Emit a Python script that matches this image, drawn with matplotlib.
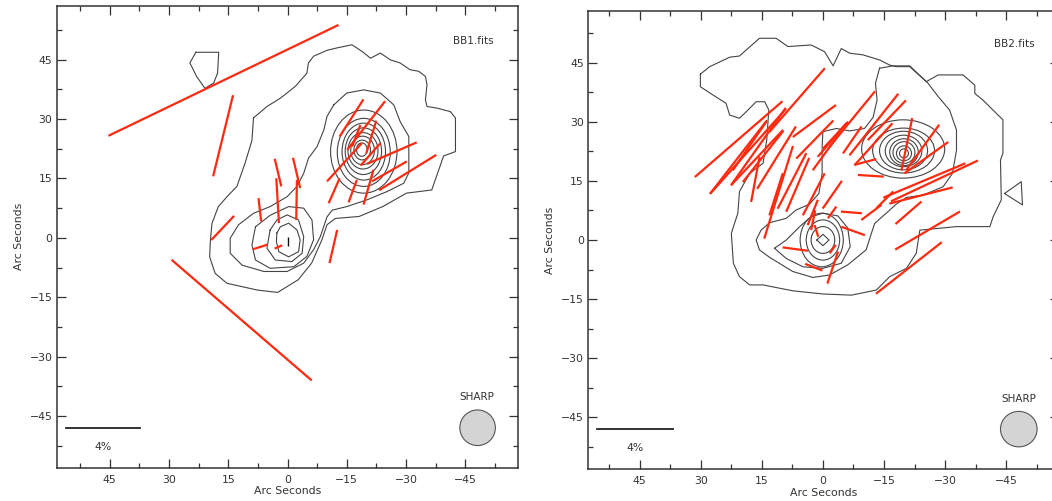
import numpy as np
import matplotlib
matplotlib.use("Agg")
import matplotlib.pyplot as plt
from matplotlib.patches import Ellipse, Circle
from matplotlib.ticker import MultipleLocator

RED = "#ff2a10"
GREY = "#444444"
PSCALE = 18.6 / 4.0          # arcsec per percent of polarization

# ---------------- BB1 ----------------
# vectors: RA offset, Dec offset (arcsec), polarization (%), position angle (deg E of N)
bb1_x = [16.2, 16.3, 11.6, 16.4, 6.9, 2.3, 7.0, 2.5, 2.4, -2.3, -2.3, -11.6,
         -16.2, -19.9, -21.2, -17.4, -21.0, -26.4, -25.8, -30.4, -14.4, -11.8, -16.5, -20.5]
bb1_y = [39.8, 25.8, -20.8, 2.5, -2.3, -2.3, 7.1, 9.4, 16.5, 16.4, 9.6, -2.2,
         30.3, 28.4, 25.5, 25.8, 21.1, 21.4, 16.8, 16.5, 19.1, 11.9, 11.8, 12.8]
bb1_p = [13.9, 4.54, 10.06, 1.81, 0.85, 0.45, 1.27, 2.44, 1.54, 1.70, 2.16, 1.85,
         2.40, 3.36, 1.85, 1.25, 1.63, 2.95, 2.18, 3.66, 2.81, 1.48, 1.30, 1.97]
bb1_pa = [115.7, 166.2, 49.3, 136.6, 107.3, 113.5, 6.5, 3.4, 13.5, 13.4, 179.0, 167.0,
          147.3, 142.0, 163.0, 159.0, 138.6, 113.4, 119.7, 121.7, 137.6, 156.3, 159.8, 164.1]

# contours (RA, Dec offsets in arcsec)
bb1_outer_x = [8.6, 5.2, 1.8, -2.0, -4.9, -5.3, -6.6, -10.0, -12.5, -16.3, -18.9, -21.0,
               -23.5, -26.0, -28.5, -31.0, -33.2, -34.9, -35.3, -34.9, -35.3, -37.8, -41.2,
               -42.5, -42.5, -39.5, -36.5, -30.1, -24.1, -18.1, -12.1, -10.0, -8.7, -6.1,
               -2.7, 2.5, 7.6, 15.3, 18.3, 19.7, 19.5, 19.1, 17.5, 15.3, 12.8, 10.7, 9.0]
bb1_outer_y = [30.3, 33.2, 35.3, 38.3, 41.6, 44.2, 45.9, 47.4, 48.0, 48.8, 47.1, 45.4,
               46.7, 45.0, 44.2, 42.5, 42.1, 40.8, 38.7, 34.9, 33.2, 32.8, 31.9,
               30.3, 21.8, 20.7, 12.1, 11.3, 7.9, 5.4, 4.9, 3.3, -0.5, -6.4,
               -10.6, -13.8, -13.2, -11.5, -9.0, -4.8, -0.5, 3.7, 7.9, 10.4, 13.0, 19.0, 24.6]
bb1_blob_x = [23.2, 17.4, 17.7, 18.7, 20.9, 23.0, 24.7]
bb1_blob_y = [46.9, 46.9, 41.6, 39.1, 37.8, 40.8, 44.2]
bb1_l2_x = [-11.7, -15.0, -19.3, -23.5, -26.9, -28.5, -30.7, -30.7, -29.4, -25.2, -20.1, -15.0,
            -11.3, -10.0, -8.3, -6.6, -4.1, 0.1, 6.0, 11.5, 14.5, 14.5, 12.4, 8.6, 4.4, 0.1,
            -2.4, -4.1, -5.3, -7.5, -9.2, -10.0]
bb1_l2_y = [33.6, 36.6, 37.4, 36.6, 33.6, 29.4, 25.6, 16.4, 13.8, 11.7, 9.6, 7.9,
            7.0, 5.3, 0.3, -3.0, -6.4, -8.5, -8.5, -6.9, -3.9, -0.1, 3.3, 6.2, 7.9, 10.4,
            13.0, 16.3, 20.1, 23.1, 27.3, 30.7]
bb1_ringA_x = [8.1, 4.4, -0.3, -4.1, -6.2, -6.6, -4.9, -1.6, 4.4, 8.1, 9.0]
bb1_ringA_y = [2.8, 5.7, 7.9, 7.5, 4.5, -0.5, -4.7, -7.3, -7.7, -5.6, -1.8]
bb1_ringB_x = [4.4, 2.7, 0.1, -2.8, -4.1, -3.7, -1.1, 3.1, 5.2]
bb1_ringB_y = [2.0, 4.5, 5.8, 4.5, 0.3, -3.9, -6.0, -5.6, -2.6]
bb1_ringC_x = [2.7, 1.8, -0.3, -2.4, -3.2, -2.8, -0.3, 2.2, 2.8]
bb1_ringC_y = [1.2, 2.8, 3.7, 2.0, -0.5, -3.5, -4.8, -3.5, -1.0]
# nested rings round the NW peak: centre, full width, full height (arcsec)
bb1_core_x = [-19.3, -19.3, -19.3, -19.2, -19.1, -19.0, -18.9, -18.8]
bb1_core_y = [21.8, 21.6, 21.8, 21.9, 22.0, 22.1, 22.2, 22.3]
bb1_core_w = [16.8, 13.4, 11.0, 9.2, 7.6, 6.0, 4.2, 2.7]
bb1_core_h = [21.0, 17.2, 14.4, 11.8, 9.2, 7.2, 5.0, 3.4]

# ---------------- BB2 ----------------
bb2_x = [6.35, 20.7, 15.8, 20.7, 14.7, 11.4, 2.1, 2.0, 16.6, 11.5, 10.9, 7.6, 6.2, 2.25,
         -2.3, 2.5, -2.25, -2.25, -3.1, -7.2, -7.2, -12.5, -15.7, -12.4, -20.6, -24.5,
         -25.4, -24.9, -27.4, -24.1, -21.0, -25.7, -21.1, -11.9, -11.75, -7.0, -7.4, 6.8,
         2.25, -2.4, -2.4, 1.6, -10.4, -15.2, 2.4, -0.8, 18.0, 18.4, 16.2]
bb2_y = [35.5, 25.6, 23.8, 21.1, 21.2, 20.9, 30.2, 25.5, 15.4, 11.6, 12.1, 15.0, 14.0, 11.6,
         11.5, 7.0, 7.0, 25.4, 26.6, 25.4, 30.7, 29.3, 30.4, 24.3, 24.3, 23.5,
         20.9, 15.1, 15.0, 11.3, 6.9, 2.4, -7.1, 7.0, 16.3, 7.0, 2.3, -2.3,
         -6.9, -7.0, -2.3, 2.3, 19.8, 10.2, 5.0, 22.4, 23.9, 22.5, 20.9]
bb2_p = [4.56, 6.21, 5.08, 5.01, 3.52, 3.97, 2.87, 2.86, 2.52, 2.41, 5.28, 3.39, 3.18, 2.57,
         1.82, 1.48, 0.78, 2.38, 1.99, 1.77, 3.87, 4.24, 2.96, 3.05, 2.91, 3.03,
         2.88, 4.72, 5.10, 3.46, 1.84, 4.0, 4.47, 1.35, 1.37, 1.11, 1.33, 1.35,
         0.98, 1.84, 0.56, 0.67, 1.2, 1.28, 1.09, 2.47, 3.21, 6.15, 4.10]
bb2_pa = [139.9, 131.8, 145.6, 143.1, 142.6, 149.0, 127.5, 136.7, 169.8, 162.8, 163.3, 153.5,
          157.6, 153.3, 146.1, 158.8, 145.3, 140.6, 137.8, 146.4, 141.6, 142.5, 137.2,
          138.8, 168.7, 144.9, 126.5, 113.4, 115.9, 104.8, 131.9, 121.3, 129.0, 127.8,
          86.2, 85.3, 69.7, 82.1, 68.0, 162.0, 145.3, 17.0, 105.1, 135.9, 168.7, 144.9,
          146.3, 139.2, 137.7]

bb2_outer_x = [30.1, 27.8, 22.9, 20.5, 15.6, 11.5, 8.6, 2.9, -0.4, -2.5, -4.5, -6.6, -9.8,
               -13.9, -16.4, -18.0, -21.3, -25.4, -28.3, -34.4, -37.3, -37.3, -39.3, -44.2,
               -44.2, -43.6, -43.8, -41.8, -41.0, -32.8, -23.8, -22.9, -20.5, -16.4, -13.1,
               -7.0, 0.0, 7.4, 14.7, 18.0, 20.5, 22.0, 22.5, 20.9, 20.5, 18.0, 14.7, 13.8,
               13.3, 14.3, 16.4, 18.8, 20.5, 22.9, 23.8, 27.0, 30.1]
bb2_outer_y = [42.1, 44.0, 46.4, 46.7, 51.2, 51.2, 49.1, 49.5, 47.8, 44.2, 48.6, 47.4, 47.0,
               45.7, 44.4, 44.0, 44.0, 40.2, 41.9, 41.9, 39.3, 37.2, 35.5, 30.5,
               22.0, 20.3, 10.2, 5.9, 3.4, 3.4, 2.5, -3.4, -7.2, -9.3, -12.7,
               -14.0, -13.7, -12.9, -11.4, -11.4, -9.3, -5.9, 1.7, 6.8, 12.3, 16.9, 19.5, 25.4,
               33.0, 35.1, 35.1, 32.6, 30.9, 31.7, 34.7, 36.8, 38.9]
bb2_tri_x = [-44.6, -48.7, -49.0]
bb2_tri_y = [11.8, 14.8, 8.9]
bb2_l2_x = [-13.9, -17.2, -21.3, -25.8, -28.3, -31.1, -32.8, -32.8, -31.8, -29.5, -24.6,
            -20.5, -18.0, -16.4, -12.7, -11.9, -10.6, -6.1, -1.6, 2.5, 7.4, 13.1, 15.6,
            16.4, 15.2, 13.1, 9.0, 6.6, 3.3, 1.0, 0.2, 0.2, 0.0, -3.3, -6.6, -10.2,
            -12.3, -13.3, -12.9]
bb2_l2_y = [43.6, 44.2, 44.2, 39.8, 36.4, 33.0, 27.9, 22.8, 16.9, 13.5, 11.4,
            10.8, 9.1, 7.6, 4.2, 1.7, -2.5, -6.3, -8.9, -9.5, -8.0, -4.4, -2.5,
            0.0, 2.5, 4.4, 5.5, 7.6, 9.1, 11.8, 16.9, 23.7, 27.5, 28.3, 27.7, 28.3,
            31.1, 35.5, 39.8]
bb2_tear_x = [11.9, 9.0, 5.7, 2.9, 0.0, -3.7, -6.1, -6.7, -4.5, 0.0, 4.9, 9.0]
bb2_tear_y = [-2.1, 0.0, 3.4, 5.9, 6.8, 6.1, 3.0, -1.7, -5.9, -7.2, -6.8, -4.7]
bb2_core_x = [-19.7, -19.8, -19.8, -19.8, -19.9, -19.9, -19.9, -19.9, 0.3, 0.0, 0.0]
bb2_core_y = [23.1, 22.7, 22.7, 22.6, 22.3, 22.2, 22.0, 22.0, 0.0, 0.0, 0.0]
bb2_core_w = [20.4, 15.2, 11.8, 9.0, 7.0, 5.4, 3.7, 2.2, 10.6, 8.2, 5.8]
bb2_core_h = [14.8, 11.4, 9.8, 8.0, 6.8, 5.5, 3.8, 2.3, 13.6, 10.2, 6.8]
bb2_diam_x = [1.5, 0.0, -1.5, 0.0]
bb2_diam_y = [0.0, 1.45, 0.0, -1.45]


def vectors(ax, x, y, p, pa, color=RED, lw=1.6):
    x, y, p, pa = map(np.asarray, (x, y, p, pa))
    h = 0.5 * p * PSCALE
    dx = h * np.sin(np.radians(pa))
    dy = h * np.cos(np.radians(pa))
    for i in range(len(x)):
        ax.plot([x[i] - dx[i], x[i] + dx[i]], [y[i] - dy[i], y[i] + dy[i]],
                color=color, lw=lw, solid_capstyle="butt", zorder=3)


def closed(ax, xs, ys):
    ax.plot(list(xs) + [xs[0]], list(ys) + [ys[0]], color=GREY, lw=0.8, zorder=2)


def frame(ax, xlim, ylim, name, bar_x):
    ax.set_xlim(*xlim); ax.set_ylim(*ylim)
    ax.xaxis.set_major_locator(MultipleLocator(15)); ax.xaxis.set_minor_locator(MultipleLocator(7.5))
    ax.yaxis.set_major_locator(MultipleLocator(15)); ax.yaxis.set_minor_locator(MultipleLocator(7.5))
    ax.tick_params(which="both", direction="in", top=True, right=True, width=0.9,
                   labelsize=7.8, labelcolor="#333333", color="#333333")
    ax.tick_params(which="major", length=6.5, pad=5)
    ax.tick_params(which="minor", length=3.5)
    ax.tick_params(axis="y", which="major", pad=3)
    for s in ax.spines.values():
        s.set_linewidth(1.1); s.set_color("#333333")
    ax.set_xlabel("Arc Seconds", fontsize=7.8, color="#333333", labelpad=1)
    ax.set_ylabel("Arc Seconds", fontsize=7.8, color="#333333", labelpad=4)
    ax.text(-47.0, 49.8, name, fontsize=7.5, color="#333333", ha="center", va="center")
    ax.text(-48.0, -40.3, "SHARP", fontsize=7.5, color="#333333", ha="center", va="center")
    ax.add_patch(Circle((-48.1, -48.0), 4.5, facecolor="#d4d4d4", edgecolor="#555555", lw=0.8))
    ax.plot([bar_x, bar_x - 4 * PSCALE], [-48.0, -48.0], color="#222222", lw=1.3)
    ax.text(bar_x - 2 * PSCALE, -52.9, "4%", fontsize=7.8, color="#333333", ha="center", va="center")


fig = plt.figure(figsize=(10.52, 5.01), dpi=100)
a1 = fig.add_axes([56.7 / 1052, 33.3 / 501, 461.6 / 1052, 461.7 / 501])
a2 = fig.add_axes([588.0 / 1052, 31.7 / 501, 470.7 / 1052, 458.6 / 501])

# BB1
frame(a1, (58.4, -58.4), (-58.1, 58.6), "BB1.fits", 56.0)
for xs, ys in [(bb1_outer_x, bb1_outer_y), (bb1_blob_x, bb1_blob_y), (bb1_l2_x, bb1_l2_y),
               (bb1_ringA_x, bb1_ringA_y), (bb1_ringB_x, bb1_ringB_y), (bb1_ringC_x, bb1_ringC_y)]:
    closed(a1, xs, ys)
for cx, cy, w, h in zip(bb1_core_x, bb1_core_y, bb1_core_w, bb1_core_h):
    a1.add_patch(Ellipse((cx, cy), w, h, fill=False, edgecolor=GREY, lw=0.8, zorder=2))
vectors(a1, bb1_x, bb1_y, bb1_p, bb1_pa)
vectors(a1, [0.0], [-0.9], [0.5], [0.0], color="#111111", lw=1.0)

# BB2
frame(a2, (57.7, -57.9), (-58.2, 58.2), "BB2.fits", 55.4)
for xs, ys in [(bb2_outer_x, bb2_outer_y), (bb2_tri_x, bb2_tri_y), (bb2_l2_x, bb2_l2_y),
               (bb2_tear_x, bb2_tear_y), (bb2_diam_x, bb2_diam_y)]:
    closed(a2, xs, ys)
for cx, cy, w, h in zip(bb2_core_x, bb2_core_y, bb2_core_w, bb2_core_h):
    a2.add_patch(Ellipse((cx, cy), w, h, fill=False, edgecolor=GREY, lw=0.8, zorder=2))
vectors(a2, bb2_x, bb2_y, bb2_p, bb2_pa)

fig.savefig("out.png", dpi=100)
